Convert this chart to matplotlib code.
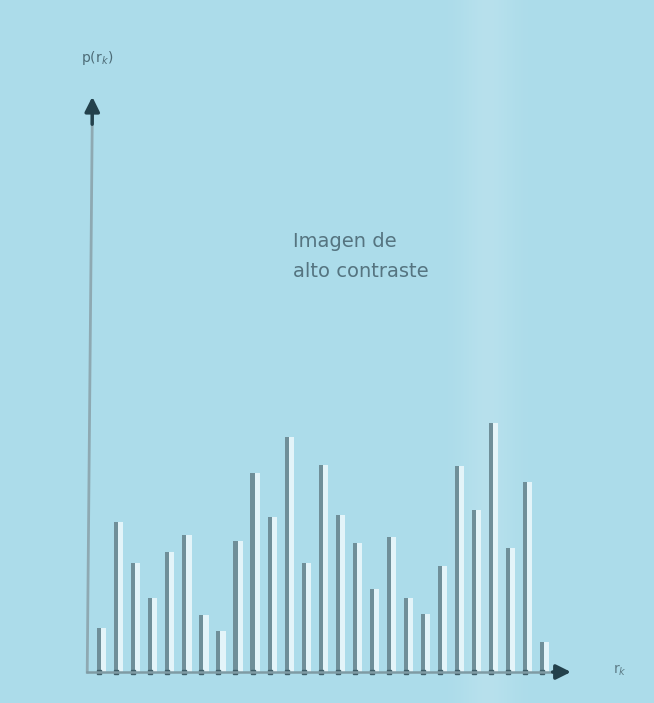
import matplotlib.pyplot as plt
import numpy as np

# histogram of a high contrast image
levels = list(range(27))
counts = [44, 150, 109, 74, 120, 137, 57, 41, 131, 199, 155, 235, 109, 207,
          157, 129, 83, 135, 74, 58, 106, 206, 162, 249, 124, 190, 30]
caption = "Imagen de\nalto contraste"
ylabel = "p(r$_k$)"
xlabel = "r$_k$"

bg = "#acdcea"
fig = plt.figure(figsize=(6.54, 7.03), dpi=100, facecolor=bg)
ax = fig.add_axes([0, 0, 1, 1], facecolor=bg)
step = 17.04
xl = (-100 / step, (654 - 100) / step)
ax.set_xlim(*xl)
ax.set_ylim(-31, 672)
ax.axis("off")

# soft glare from the photo (white overlay, gaussian across x)
gx = np.linspace(xl[0], xl[1], 400)
glare = np.zeros((1, 400, 4))
glare[..., :3] = 1.0
glare[0, :, 3] = 0.14 * np.exp(-((gx - 22.8) / 1.6) ** 2)
ax.imshow(glare, extent=(xl[0], xl[1], -31, 672), aspect="auto", zorder=1,
          interpolation="bilinear")

x = np.array(levels)
h = np.array(counts)
# white glow next to each bar, then the grey bar itself
ax.bar(x + 0.2, h, width=0.34, color="#eef9fc", alpha=0.85, zorder=2)
ax.bar(x - 0.05, h, width=0.24, color="#6f8f99", zorder=3)
ax.plot(x - 0.05, np.zeros_like(x), "s", color="#3f5e68", ms=3, zorder=4)

# axes: light lines with dark arrow heads
x0 = -0.75
ax.plot([x0, x0 + 0.3], [0, 560], color="#8ea9b2", lw=2.0, zorder=4)
ax.annotate("", xy=(x0 + 0.3, 578), xytext=(x0 + 0.29, 545),
            arrowprops=dict(arrowstyle="-|>", color="#23414c", lw=2.5,
                            mutation_scale=22), zorder=5)
ax.plot([x0, 27.0], [0, 0], color="#7f9ba4", lw=1.8, zorder=4)
ax.annotate("", xy=(27.8, 0), xytext=(26.4, 0),
            arrowprops=dict(arrowstyle="-|>", color="#23414c", lw=2.5,
                            mutation_scale=22), zorder=5)

ax.text(x0 - 0.35, 614, ylabel, fontsize=10, color="#4d6c77", va="center")
ax.text(30.1, 2, xlabel, fontsize=10, color="#5d7c87", va="center")
ax.text(11.3, 440, caption, fontsize=14, color="#557480", va="top",
        linespacing=1.75)

fig.savefig("out.png", dpi=100, facecolor=bg)
